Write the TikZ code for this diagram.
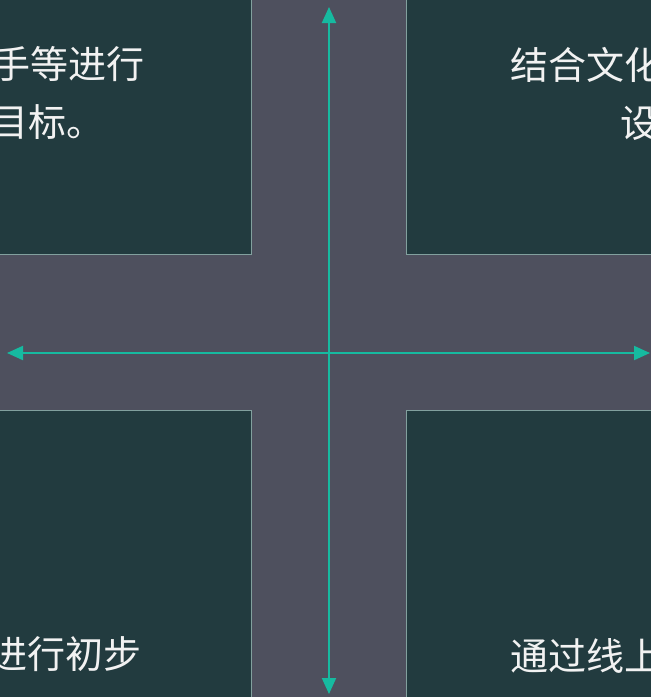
\documentclass[tikz,border=0pt]{standalone}
\usepackage{fontspec}
\newfontfamily\cjk{Noto Sans CJK SC}
\usetikzlibrary{arrows.meta}
\definecolor{bgc}{RGB}{78,80,94}
\definecolor{boxfill}{RGB}{34,59,63}
\definecolor{boxline}{RGB}{130,160,158}
\definecolor{axisc}{RGB}{22,186,160}
\begin{document}
\begin{tikzpicture}[x=1pt,y=-1pt,
  box/.style={draw=boxline, line width=1pt, fill=boxfill},
  txt/.style={text=white!95!black, font=\cjk\fontsize{38}{46}\selectfont, inner sep=0pt},
  axisline/.style={draw=axisc, line width=2pt, {Triangle[width=14pt,length=16pt]}-{Triangle[width=14pt,length=16pt]}}]
\useasboundingbox (0,0) rectangle (651,697);
\clip (0,0) rectangle (651,697);
\fill[bgc] (0,0) rectangle (651,697);
% boxes
\path[box] (-5,-5) rectangle (251.5,254);
\path[box] (406.5,-5) rectangle (660,254);
\path[box] (-5,410) rectangle (251.5,705);
\path[box] (406.5,410) rectangle (660,705);
% texts
\node[txt, anchor=base east] (tl1) at (145,78.5) {手等进行};
\node[txt, anchor=base east] (tl2) at (104.5,136.5) {目标。};
\node[txt, anchor=base west] (tr1) at (510,79) {结合文化};
\node[txt, anchor=base west] (tr2) at (620,137) {设};
\node[txt, anchor=base east] (bl1) at (142,668.5) {进行初步};
\node[txt, anchor=base west] (br1) at (510,670) {通过线上};
% axes
\coordinate (left) at (7,353);
\coordinate (right) at (650,353);
\coordinate (top) at (329,7);
\coordinate (bottom) at (329,694);
\draw[axisline] (left) -- (right);
\draw[axisline] (top) -- (bottom);
\end{tikzpicture}
\end{document}
